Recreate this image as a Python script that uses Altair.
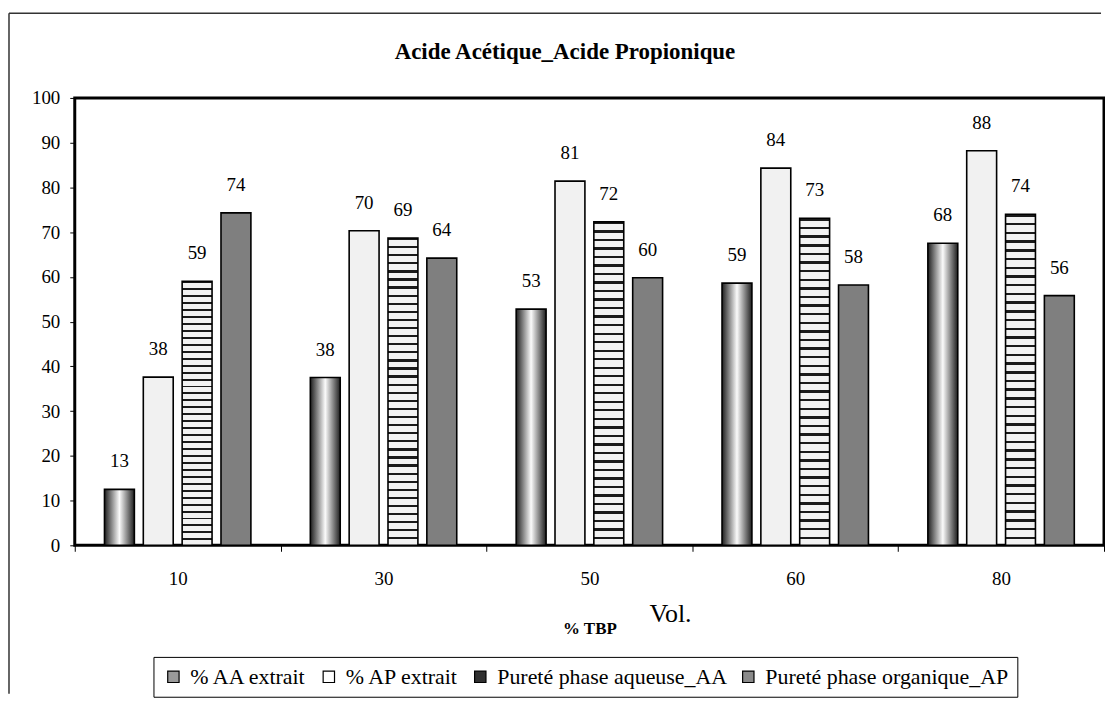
import altair as alt
import pandas as pd

categories = ["10", "30", "50", "60", "80"]
series = ["% AA extrait", "% AP extrait", "Pureté phase aqueuse_AA", "Pureté phase organique_AP"]
aa_extrait = [12.5, 37.5, 52.8, 58.6, 67.5]
ap_extrait = [37.6, 70.3, 81.4, 84.3, 88.2]
purete_aq = [59.0, 68.7, 72.3, 73.1, 74.0]
purete_org = [74.3, 64.2, 59.8, 58.2, 55.8]
title_text = "Acide Acétique_Acide Propionique"

rows = []
for s, vals in zip(series, [aa_extrait, ap_extrait, purete_aq, purete_org]):
    for c, v in zip(categories, vals):
        rows.append({"tbp": c, "serie": s, "val": v})
df = pd.DataFrame(rows)

FONT = "Liberation Serif"

# fills (style only)
grad_aa = {"gradient": "linear", "x1": 0, "y1": 0, "x2": 1, "y2": 0,
           "stops": [{"offset": 0, "color": "#1e1e1e"},
                     {"offset": 0.5, "color": "#fbfbfb"},
                     {"offset": 1, "color": "#1e1e1e"}]}
N = 38
brick_stops = []
for i in range(N):
    a = i / N
    b = (i + 0.28) / N
    c = (i + 1) / N
    brick_stops += [{"offset": a, "color": "#1a1a1a"}, {"offset": b, "color": "#1a1a1a"},
                    {"offset": b, "color": "#f2f2f2"}, {"offset": c, "color": "#f2f2f2"}]
grad_brick = {"gradient": "linear", "x1": 0, "y1": 0, "x2": 0, "y2": 1, "stops": brick_stops}
fills = [grad_aa, "#f1f1f1", grad_brick, "#7f7f7f"]
legend_fills = ["#9a9a9a", "#ffffff", "#303030", "#8a8a8a"]

x_enc = alt.X("tbp:N", sort=categories, title="% TBP",
              scale=alt.Scale(paddingInner=0, paddingOuter=0),
              axis=alt.Axis(labelAngle=0, tickBand="extent", tickSize=6, tickColor="black",
                            labelFont=FONT, labelFontSize=19, labelColor="black", labelPadding=18,
                            titleFont=FONT, titleFontSize=17, titleFontWeight="bold",
                            titleColor="black", titlePadding=33, domain=False))
xo_enc = alt.XOffset("serie:N", sort=series,
                     scale=alt.Scale(domain=series, paddingInner=0.23, paddingOuter=0.765))
y_enc = alt.Y("val:Q", title=None,
              scale=alt.Scale(domain=[0, 100], nice=False),
              axis=alt.Axis(values=list(range(0, 101, 10)), tickSize=5, tickColor="black",
                            labelFont=FONT, labelFontSize=19, labelColor="black",
                            labelPadding=10, grid=False, domain=False))

base = alt.Chart(df)
layers = []
for s, f in zip(series, fills):
    layers.append(
        base.transform_filter(alt.datum.serie == s)
        .mark_bar(color=f, stroke="black", strokeWidth=1.6)
        .encode(x=x_enc, xOffset=xo_enc, y=y_enc)
    )

legend_layer = base.mark_square(opacity=0, size=1).encode(
    x=x_enc, xOffset=xo_enc, y=alt.Y("val:Q", scale=alt.Scale(domain=[0, 100], nice=False)),
    fill=alt.Fill("serie:N", sort=series,
                  scale=alt.Scale(domain=series, range=legend_fills),
                  legend=alt.Legend(title=None, orient="none", legendX=79, legendY=561,
                                    direction="horizontal", columns=4, symbolType="square",
                                    symbolSize=130, symbolOpacity=1, symbolStrokeColor="black",
                                    symbolStrokeWidth=1.2, labelFont=FONT, labelFontSize=22,
                                    labelColor="black", labelLimit=600, columnPadding=10,
                                    labelOffset=6, padding=9, strokeColor="black",
                                    fillColor="white", symbolOffset=0)),
)

labels = base.mark_text(font=FONT, fontSize=19, color="black", dy=-28, baseline="middle").encode(
    x=x_enc, xOffset=xo_enc, y=alt.Y("val:Q", scale=alt.Scale(domain=[0, 100], nice=False)),
    text=alt.Text("val:Q", format=".0f"),
)

one = pd.DataFrame({"k": [0]})
title = alt.Chart(one).mark_text(text=title_text, font=FONT, fontSize=23, fontWeight="bold",
                                 color="black", baseline="middle", align="center").encode(
    x=alt.value(492), y=alt.value(-46))
vol = alt.Chart(one).mark_text(text="Vol.", font=FONT, fontSize=26, color="black",
                               baseline="middle", align="center").encode(
    x=alt.value(598), y=alt.value(518))
frame_left = alt.Chart(one).mark_rule(color="#333333", strokeWidth=1.5).encode(
    x=alt.value(-66), y=alt.value(-85), y2=alt.value(598))
frame_top = alt.Chart(one).mark_rule(color="#333333", strokeWidth=1.5).encode(
    x=alt.value(-66), x2=alt.value(1030), y=alt.value(-85))

chart = alt.layer(frame_left, frame_top, title, *layers, labels, legend_layer, vol).properties(
    width=1033, height=449,
    padding={"left": 0, "top": 3, "right": 0, "bottom": 0},
).configure(font=FONT).configure_view(stroke="black", strokeWidth=3).configure_axis(
    labelFont=FONT, titleFont=FONT).configure_legend(labelFont=FONT).configure_text(font=FONT)

chart.save("out.html", embed_options={"renderer": "svg", "actions": False})
